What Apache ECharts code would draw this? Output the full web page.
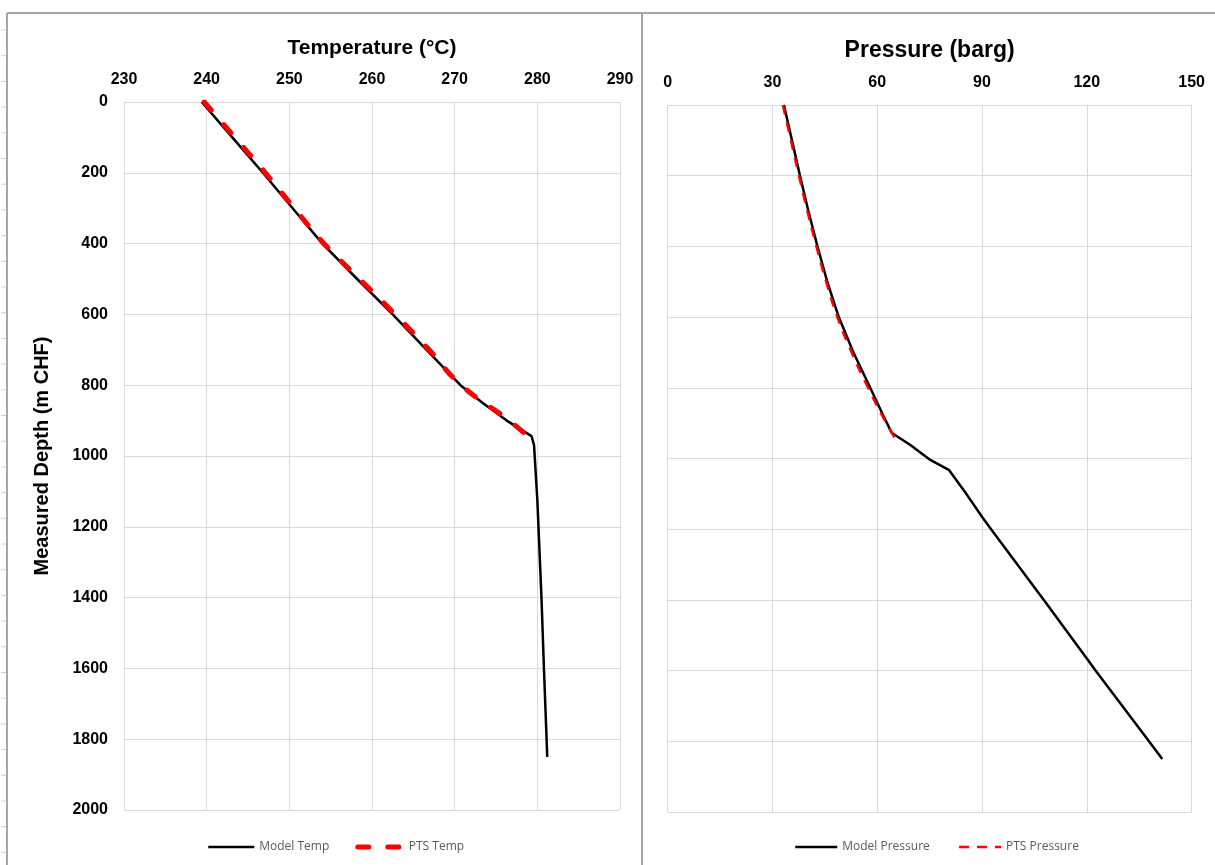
<!DOCTYPE html>
<html>
<head>
<meta charset="utf-8">
<script src="https://cdn.jsdelivr.net/npm/echarts@6/dist/echarts.min.js"></script>
<style>
html,body{margin:0;padding:0;background:#fff;}
#chart{width:1215px;height:865px;}
</style>
</head>
<body>
<div id="chart"></div>
<script>
// ---- Temperature panel data ----
const tempModelDepth = [0, 100, 200, 300, 400, 500, 600, 700, 800, 850, 900, 944, 969, 1124, 1400, 1600, 1850];
const tempModel      = [239.4, 243.1, 246.8, 250.4, 254.0, 258.2, 262.5, 266.6, 270.7, 273.4, 276.3, 279.3, 279.6, 280.0, 280.5, 280.8, 281.2];
const tempPTSDepth   = [0, 100, 200, 300, 400, 500, 600, 700, 800, 900, 950];
const tempPTS        = [239.7, 243.4, 247.1, 250.6, 254.2, 258.5, 262.8, 266.9, 270.8, 276.6, 279.1];

// ---- Pressure panel data ----
const presModelDepth = [0, 100, 200, 300, 400, 500, 600, 700, 800, 880, 928, 962, 1004, 1033, 1100, 1165, 1200, 1400, 1566, 1600, 1800, 1850];
const presModel      = [33.3, 35.6, 37.9, 40.3, 42.9, 45.7, 49.0, 53.2, 58.0, 61.8, 64.2, 69.5, 75.2, 80.6, 85.5, 90.0, 92.6, 107.7, 120.0, 122.5, 137.8, 141.6];
const presPTSDepth   = [0, 100, 200, 300, 400, 500, 600, 700, 800, 900, 950];
const presPTS        = [33.0, 35.3, 37.6, 40.0, 42.6, 45.4, 48.6, 52.7, 57.4, 62.6, 65.6];

// ---- Axis ticks ----
const tempTicks  = {min: 230, max: 290, interval: 10};
const presTicks  = {min: 0, max: 150, interval: 30};
const depthTicks = {min: 0, max: 2000, interval: 200};

const pair = (xs, ys) => xs.map((x, i) => [x, ys[i]]);

const FONT = '"Liberation Sans", Arial, sans-serif';
const gridColor = '#d9d9d9';

const chart = echarts.init(document.getElementById('chart'), null, {renderer: 'canvas'});

function xAxisCfg(name, ticks, gridIndex, nameSize) {
  return {
    type: 'value', gridIndex, position: 'top',
    min: ticks.min, max: ticks.max, interval: ticks.interval,
    name, nameLocation: 'middle', nameGap: 43,
    nameTextStyle: {fontFamily: FONT, fontWeight: 'bold', fontSize: nameSize, color: '#000'},
    axisLine: {show: false}, axisTick: {show: false},
    axisLabel: {fontFamily: FONT, fontWeight: 'bold', fontSize: 16, color: '#000', margin: 14, formatter: v => String(v)},
    splitLine: {show: true, lineStyle: {color: gridColor, width: 1}}
  };
}
function yAxisCfg(gridIndex, showLabels) {
  return {
    type: 'value', gridIndex, inverse: true,
    min: depthTicks.min, max: depthTicks.max, interval: depthTicks.interval,
    name: showLabels ? 'Measured Depth (m CHF)' : '',
    nameLocation: 'middle', nameGap: 72, nameRotate: 90,
    nameTextStyle: {fontFamily: FONT, fontWeight: 'bold', fontSize: 20, color: '#000'},
    axisLine: {show: false}, axisTick: {show: false},
    axisLabel: {show: showLabels, fontFamily: FONT, fontWeight: 'bold', fontSize: 16, color: '#000', margin: 16, formatter: v => String(v)},
    splitLine: {show: true, lineStyle: {color: gridColor, width: 1}}
  };
}

const rulerTicks = [];
for (let y = 30; y < 865; y += 25.7) {
  rulerTicks.push({type: 'line', shape: {x1: 1, y1: y, x2: 6, y2: y}, style: {stroke: '#d0d0d0', lineWidth: 1}, silent: true});
}

const legendText = {fontFamily: '"Open Sans", sans-serif', fontSize: 12, color: '#595959'};

const option = {
  backgroundColor: '#fff',
  animation: false,
  grid: [
    {left: 124, top: 102, width: 496, height: 708},
    {left: 667.6, top: 105, width: 524, height: 707}
  ],
  xAxis: [
    xAxisCfg('Temperature (°C)', tempTicks, 0, 21),
    xAxisCfg('Pressure (barg)', presTicks, 1, 23)
  ],
  yAxis: [yAxisCfg(0, true), yAxisCfg(1, false)],
  legend: [
    {
      data: ['Model Temp', 'PTS Temp'], left: 202, top: 836,
      itemWidth: 46, itemHeight: 14, itemGap: 26,
      itemStyle: {opacity: 0},
      lineStyle: {width: 'inherit'},
      textStyle: legendText
    },
    {
      data: ['Model Pressure', 'PTS Pressure'], left: 789, top: 836,
      itemWidth: 42, itemHeight: 14, itemGap: 28,
      itemStyle: {opacity: 0},
      lineStyle: {width: 'inherit'},
      textStyle: legendText
    }
  ],
  series: [
    {
      name: 'Model Temp', type: 'line', xAxisIndex: 0, yAxisIndex: 0,
      data: pair(tempModel, tempModelDepth), symbol: 'none', smooth: false,
      lineStyle: {color: '#000', width: 2.5}, itemStyle: {color: '#000'}, z: 2
    },
    {
      name: 'PTS Temp', type: 'line', xAxisIndex: 0, yAxisIndex: 0,
      data: pair(tempPTS, tempPTSDepth), symbol: 'none', smooth: true,
      lineStyle: {color: '#ff0000', width: 5, type: [11, 19], cap: 'round'}, itemStyle: {color: '#ff0000'}, z: 3
    },
    {
      name: 'Model Pressure', type: 'line', xAxisIndex: 1, yAxisIndex: 1,
      data: pair(presModel, presModelDepth), symbol: 'none', smooth: false,
      lineStyle: {color: '#000', width: 2.5}, itemStyle: {color: '#000'}, z: 2
    },
    {
      name: 'PTS Pressure', type: 'line', xAxisIndex: 1, yAxisIndex: 1,
      data: pair(presPTS, presPTSDepth), symbol: 'none', smooth: true,
      lineStyle: {color: '#ff0000', width: 2.5, type: [10, 8]}, itemStyle: {color: '#ff0000'}, z: 3
    }
  ],
  graphic: [
    {type: 'line', shape: {x1: 7, y1: 13, x2: 1215, y2: 13}, style: {stroke: '#a6a6a6', lineWidth: 2}, silent: true},
    {type: 'line', shape: {x1: 7, y1: 13, x2: 7, y2: 865}, style: {stroke: '#a6a6a6', lineWidth: 2}, silent: true},
    {type: 'line', shape: {x1: 642, y1: 13, x2: 642, y2: 865}, style: {stroke: '#a6a6a6', lineWidth: 2}, silent: true}
  ].concat(rulerTicks)
};
chart.setOption(option);
</script>
</body>
</html>
